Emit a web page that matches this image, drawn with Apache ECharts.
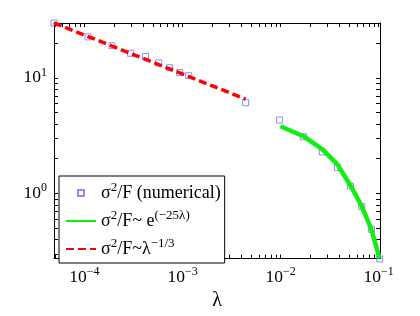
<!DOCTYPE html>
<html><head><meta charset="utf-8">
<script src="https://cdn.jsdelivr.net/npm/echarts@6/dist/echarts.min.js"></script>
<style>html,body{margin:0;padding:0;background:#fff}#c{width:420px;height:316px}</style>
</head><body><div id="c"></div>
<script>
// numerical sigma^2/F values
const lambdaNum = [4.9e-5, 1.088e-4, 1.91e-4, 2.96e-4, 4.20e-4, 5.72e-4, 7.40e-4, 9.36e-4, 1.156e-3, 4.40e-3, 9.78e-3, 0.01706, 0.02665, 0.0379, 0.0514, 0.0670, 0.0841, 0.1022];
const sigmaNum  = [29.8, 22.6, 18.99, 16.31, 15.31, 13.46, 12.23, 11.11, 10.43, 6.10, 4.32, 3.10, 2.29, 1.676, 1.159, 0.772, 0.491, 0.272];
// exponential fit e^(-25 lambda)
const lambdaExp = [9.95e-3, 0.01706, 0.02665, 0.0379, 0.0526, 0.0670, 0.0841, 0.1022];
const sigmaExp  = [3.82, 3.13, 2.41, 1.785, 1.14, 0.778, 0.491, 0.274];
// power law lambda^(-1/3)
const lambdaPow = [4.9e-5, 4.40e-3];
const sigmaPow  = [29.8, 6.55];
// tick labels
const xTickLabels = [1e-4, 1e-3, 1e-2, 1e-1];
const yTickLabels = [1, 10];
const mantissas = [1, 2, 3, 4, 5, 6, 7, 8, 9];
const xDecades = [1e-5, 1e-4, 1e-3, 1e-2, 1e-1];
const yDecades = [0.1, 1, 10];

const X_MIN = 4.9e-5, X_MAX = 0.103, Y_MIN = 0.274, Y_MAX = 29.8;
const serif = 'Liberation Serif';

function minorTicks(decades, lo, hi) {
  const out = [];
  decades.forEach(d => mantissas.forEach(m => {
    const v = +(d * m).toPrecision(6);
    if (v >= lo * 0.9999 && v <= hi * 1.0001) out.push(v);
  }));
  return out;
}
const xTicks = minorTicks(xDecades, X_MIN, X_MAX);
const yTicks = minorTicks(yDecades, Y_MIN, Y_MAX);

const rich = {
  b: {fontFamily: serif, fontSize: 17.5, lineHeight: 23, color: '#000'},
  s: {fontFamily: serif, fontSize: 12, lineHeight: 13, verticalAlign: 'top', color: '#000'}
};
function powLabel(v) {
  const e = Math.round(Math.log10(v));
  return '{b|10}{s|' + (e < 0 ? '\u2212' + (-e) : e) + '}';
}

function axisCommon(labels, ticks, show) {
  return {
    axisLine: {show: true, lineStyle: {color: '#000', width: 1}},
    axisTick: {show: true, inside: true, length: 4, customValues: ticks, lineStyle: {color: '#000', width: 1}},
    axisLabel: {show: show, customValues: labels, formatter: powLabel, rich: rich, margin: 7},
    splitLine: {show: false},
    minorTick: {show: false}
  };
}

const legendRich = {
  b: {fontFamily: serif, fontSize: 18, lineHeight: 24, color: '#000'},
  s: {fontFamily: serif, fontSize: 13, lineHeight: 13, verticalAlign: 'top', color: '#000'}
};
const legendText = {
  num: '{b|\u03c3}{s|2}{b|/F (numerical)}',
  exp: '{b|\u03c3}{s|2}{b|/F~ e}{s|(\u221225\u03bb)}',
  pow: '{b|\u03c3}{s|2}{b|/F~\u03bb}{s|\u22121/3}'
};
const hiddenDot = {color: 'rgba(0,0,0,0)', borderColor: 'rgba(0,0,0,0)', borderWidth: 0};

const chart = echarts.init(document.getElementById('c'), null, {renderer: 'canvas'});
chart.setOption({
  animation: false,
  backgroundColor: '#fff',
  grid: {left: 54, right: 40, top: 23, bottom: 48, containLabel: false},
  xAxis: [
    Object.assign({type: 'log', logBase: 10, min: X_MIN, max: X_MAX, position: 'bottom',
      name: '\u03bb', nameLocation: 'middle', nameGap: 28,
      nameTextStyle: {fontFamily: serif, fontSize: 20, color: '#000'}}, axisCommon(xTickLabels, xTicks, true)),
    Object.assign({type: 'log', logBase: 10, min: X_MIN, max: X_MAX, position: 'top'}, axisCommon(xTickLabels, xTicks, false))
  ],
  yAxis: [
    Object.assign({type: 'log', logBase: 10, min: Y_MIN, max: Y_MAX, position: 'left'}, axisCommon(yTickLabels, yTicks, true)),
    Object.assign({type: 'log', logBase: 10, min: Y_MIN, max: Y_MAX, position: 'right'}, axisCommon(yTickLabels, yTicks, false))
  ],
  legend: {
    orient: 'vertical', left: 59, top: 176,
    padding: [5, 4, 5, 6], itemGap: 7, itemWidth: 30, itemHeight: 6,
    symbolKeepAspect: true,
    borderColor: '#000', borderWidth: 1, borderRadius: 0, backgroundColor: '#fff',
    selectedMode: false,
    data: [
      {name: 'num', icon: 'path://M0,0h10v10h-10z'},
      {name: 'exp', itemStyle: hiddenDot},
      {name: 'pow', itemStyle: hiddenDot}
    ],
    formatter: name => legendText[name],
    textStyle: {rich: legendRich}
  },
  series: [
    {name: 'num', type: 'scatter', symbol: 'rect', symbolSize: 6, clip: false, z: 2,
      itemStyle: {color: 'rgba(255,255,255,0)', borderColor: '#6f6fff', borderWidth: 1},
      data: lambdaNum.map((x, i) => [x, sigmaNum[i]])},
    {name: 'exp', type: 'line', symbol: 'none', clip: false, z: 3,
      lineStyle: {color: '#11ee11', width: 4.5},
      itemStyle: {color: '#11ee11'},
      data: lambdaExp.map((x, i) => [x, sigmaExp[i]])},
    {name: 'pow', type: 'line', symbol: 'none', clip: false, z: 3,
      lineStyle: {color: '#ff0000', width: 3.5, type: [8, 4]},
      itemStyle: {color: '#ff0000'},
      data: lambdaPow.map((x, i) => [x, sigmaPow[i]])}
  ]
});
</script></body></html>
